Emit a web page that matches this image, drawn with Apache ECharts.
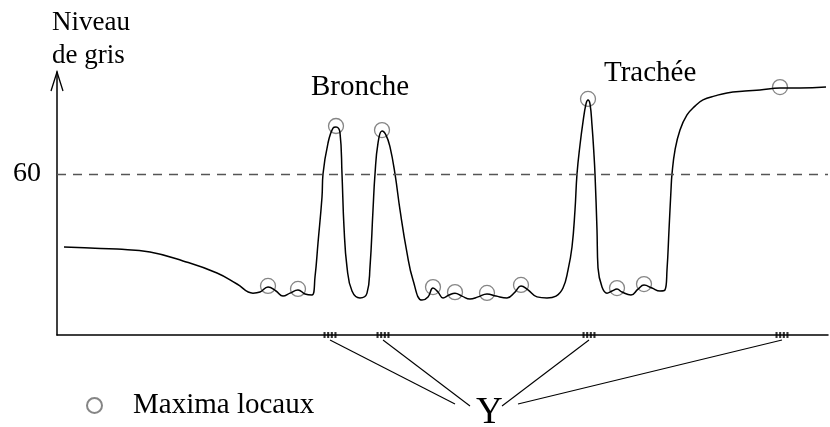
<!DOCTYPE html>
<html>
<head>
<meta charset="utf-8">
<script src="https://cdn.jsdelivr.net/npm/echarts@6/dist/echarts.min.js"></script>
<style>
  html, body { margin: 0; padding: 0; background: #fff; }
  #c { width: 830px; height: 427px; }
</style>
</head>
<body>
<div id="c"></div>
<script>
// Gray-level profile along the scan line
const positions = [7, 33, 60, 93, 126, 160, 180, 196, 203, 211, 219, 226, 233, 241, 248, 255,
  258, 261, 265, 266, 271, 276, 279, 283, 285, 287, 290, 295, 303, 310, 313, 316, 318, 321,
  325, 329, 333, 338, 343, 350, 356, 365, 371, 376, 381, 386, 392, 398, 405, 413, 421, 430,
  439, 450, 458, 464, 471, 480, 490, 499, 506, 511, 515, 518, 520, 523, 526, 529, 531, 533,
  535, 537, 538, 540, 541, 545, 550, 555, 560, 565, 574, 581, 587, 595, 603, 608, 610, 612,
  614, 615, 618, 623, 630, 638, 646, 658, 670, 688, 703, 723, 743, 769];
const grayLevels = [32.8, 32.4, 32.0, 30.9, 27.6, 23.1, 19.0, 15.6, 16.0, 17.9, 16.4, 14.5, 15.6, 16.8, 15.3, 14.9,
  21.6, 34.3, 51.4, 60.0, 71.5, 77.1, 77.5, 75.3, 60.0, 40.2, 25.3, 16.4, 13.8, 15.6, 25.3, 46.6, 60.0, 71.5,
  76.0, 74.5, 70.1, 60.0, 46.6, 30.6, 20.5, 13.0, 14.2, 17.5, 16.0, 13.8, 14.9, 15.6, 14.5, 13.4, 14.2, 15.3,
  14.5, 13.8, 16.0, 18.3, 16.8, 14.2, 13.8, 14.5, 17.5, 24.2, 32.8, 46.6, 60.0, 70.8, 79.4, 86.1, 87.6, 86.1,
  78.2, 67.1, 60.0, 39.1, 25.0, 17.9, 15.6, 16.4, 17.1, 16.0, 14.9, 17.1, 18.6, 17.5, 16.4, 16.8, 24.2, 39.1,
  54.0, 60.0, 68.9, 76.4, 82.0, 85.3, 87.6, 89.1, 90.2, 90.9, 91.3, 92.0, 92.0, 92.4];

// Local maxima of the profile
const maximaPos = [211, 241, 279, 325, 376, 398, 430, 464, 531, 560, 587, 723];
const maximaLevel = [17.9, 16.8, 77.5, 76.0, 17.5, 15.6, 15.3, 18.3, 87.6, 17.1, 18.6, 92.0];

// Positions of the Y markers on the axis
const yPositions = [273, 326, 532, 725];

const threshold = 60;
const yMax = 98;
const xMax = 771;

const serif = '"Liberation Serif", "Times New Roman", serif';
const chart = echarts.init(document.getElementById('c'), null, { renderer: 'canvas' });

const curve = positions.map((p, i) => [p, grayLevels[i]]);
const maxima = maximaPos.map((p, i) => [p, maximaLevel[i]]);
const marks = yPositions.map(p => [p, 0]);

chart.setOption({
  animation: false,
  grid: { left: 57, right: 2, top: 72, bottom: 92 },
  xAxis: {
    type: 'value', min: 0, max: xMax,
    axisLine: { lineStyle: { color: '#000', width: 1.5 } },
    axisTick: { show: false }, axisLabel: { show: false }, splitLine: { show: false }
  },
  yAxis: {
    type: 'value', min: 0, max: yMax, interval: threshold,
    axisLine: { show: true, lineStyle: { color: '#000', width: 1.5 } },
    axisTick: { show: false }, splitLine: { show: false },
    axisLabel: {
      formatter: v => (v === threshold ? String(v) : ''),
      color: '#000', fontFamily: serif, fontSize: 28, margin: 16
    }
  },
  legend: {
    left: 81, top: 386,
    itemWidth: 15, itemHeight: 15,
    data: [{ name: 'Maxima locaux', icon: 'circle' }],
    textStyle: { color: '#000', fontFamily: serif, fontSize: 29, padding: [0, 0, 0, 26] }
  },
  series: [
    {
      type: 'line', data: curve, smooth: 0.45, showSymbol: false, silent: true,
      lineStyle: { color: '#000', width: 1.5 },
      markLine: {
        symbol: 'none', silent: true, label: { show: false },
        lineStyle: { color: '#555', width: 1.3, type: [9, 7] },
        data: [{ yAxis: threshold }]
      }
    },
    {
      name: 'Maxima locaux', type: 'scatter', data: maxima,
      symbol: 'circle', symbolSize: 15, symbolOffset: [0, -1],
      itemStyle: { color: 'rgba(255,255,255,0)', borderColor: '#666', borderWidth: 1.3 }
    },
    {
      type: 'scatter', data: marks, clip: false, silent: true,
      symbol: 'path://M0,0h2v6h-2z M3.5,0h2v6h-2z M7,0h2v6h-2z M10.5,0h2v6h-2z',
      symbolSize: [13, 6],
      itemStyle: { color: '#000' }
    }
  ]
});

// Annotations: axis arrow, titles, the Y label and its connectors
const axisTop = chart.convertToPixel({ gridIndex: 0 }, [0, yMax]);
const connectorEnds = [[455, 404], [470, 406], [502, 406], [518, 404]];
const graphics = [
  {
    type: 'polyline', silent: true,
    shape: { points: [[axisTop[0] - 6, axisTop[1] + 19], [axisTop[0], axisTop[1]], [axisTop[0] + 6, axisTop[1] + 19]] },
    style: { stroke: '#000', lineWidth: 1.3, fill: null }
  },
  { type: 'text', left: 52, top: 6, style: { text: 'Niveau\nde gris', font: '27px ' + serif, fill: '#000', lineHeight: 33 } },
  { type: 'text', left: 311, top: 73, style: { text: 'Bronche', font: '29px ' + serif, fill: '#000' } },
  { type: 'text', left: 604, top: 59, style: { text: 'Trachée', font: '29px ' + serif, fill: '#000' } },
  { type: 'text', left: 476, top: 395, style: { text: 'Y', font: '37px ' + serif, fill: '#000' } }
];
yPositions.forEach((p, i) => {
  const s = chart.convertToPixel({ gridIndex: 0 }, [p, 0]);
  graphics.push({
    type: 'line', silent: true,
    shape: { x1: s[0], y1: s[1] + 5, x2: connectorEnds[i][0], y2: connectorEnds[i][1] },
    style: { stroke: '#000', lineWidth: 1.1 }
  });
});
chart.setOption({ graphic: graphics });
</script>
</body>
</html>
